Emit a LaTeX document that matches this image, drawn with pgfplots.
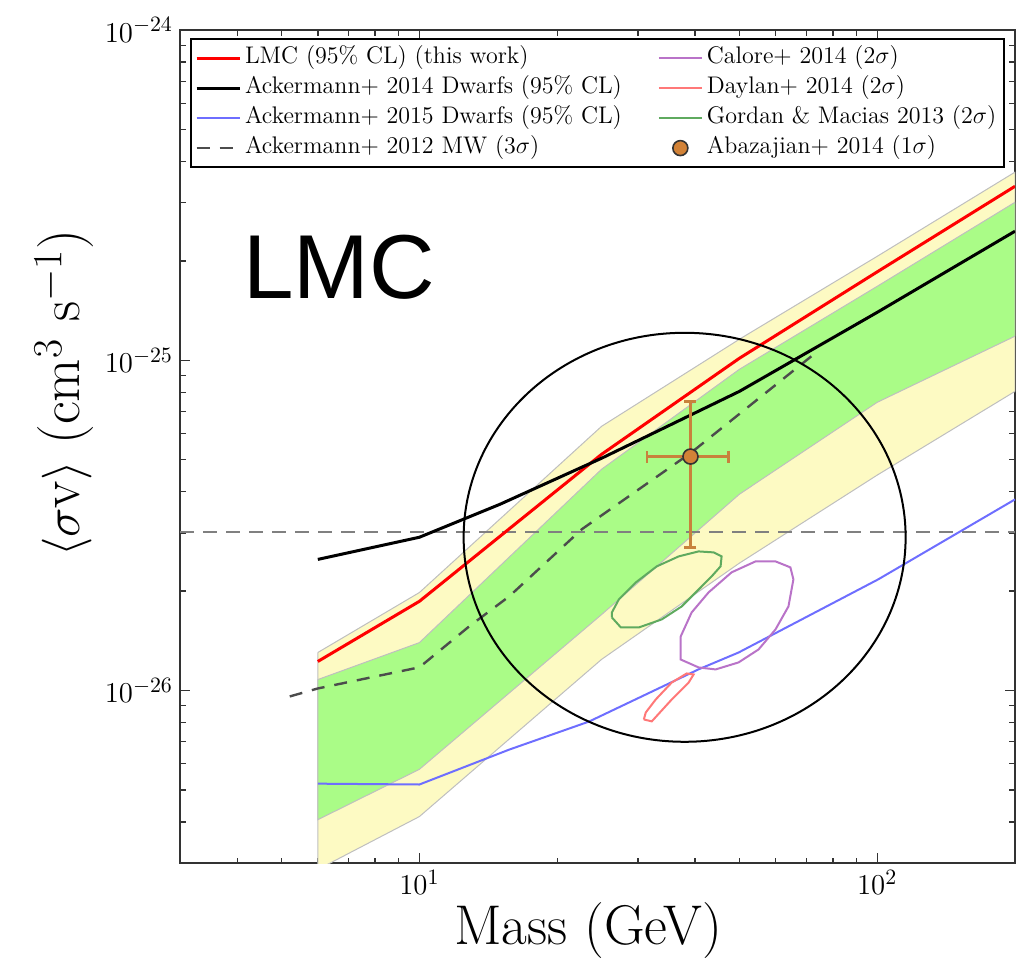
\documentclass[border=0pt]{standalone}
\usepackage{fontspec}
\newfontfamily\arialfont{Liberation Sans}
\usepackage{pgfplots}
\pgfplotsset{compat=1.18}
\usetikzlibrary{calc}

\definecolor{bandyellow}{RGB}{253,250,195}
\definecolor{bandgreen}{RGB}{170,252,135}
\definecolor{ackblue}{RGB}{110,110,255}
\definecolor{calpurple}{RGB}{185,115,200}
\definecolor{daypink}{RGB}{255,120,120}
\definecolor{gorgreen}{RGB}{95,170,95}
\definecolor{abaorange}{RGB}{210,130,55}
\definecolor{abaerr}{RGB}{200,130,60}

\pgfplotsset{
  linelegend/.style={legend image code/.code={\draw[##1] (0pt,0pt) -- (21.5pt,0pt);}},
  marklegend/.style={legend image code/.code={\draw[##1] plot coordinates {(10.75pt,0pt)};}},
}

\begin{document}
\begin{tikzpicture}
\begin{axis}[
  scale only axis, width=417.5pt, height=416.5pt,
  xmode=log, ymode=log,
  xmin=3, xmax=200, ymin=3e-27, ymax=1e-24,
  axis line style={line width=1.1pt, black!80},
  tick style={line width=0.7pt, black!80},
  major tick length=5pt, minor tick length=2.8pt,
  tick label style={font=\fontsize{15}{18}\selectfont},
  xlabel={Mass (GeV)},
  ylabel={$\langle\sigma$v$\rangle$ (cm$^3$ s$^{-1}$)},
  label style={font=\fontsize{28}{32}\selectfont},
  xlabel style={at={(axis description cs:0.4886,-0.0804)}, anchor=center},
  ylabel style={at={(axis description cs:-0.139,0.564)}, anchor=center},
  linelegend,
  legend cell align=left, legend columns=2,
  legend style={at={(axis description cs:0.012,0.9904)}, anchor=north west,
    draw=black, line width=1pt, fill=white, inner sep=2pt,
    font=\fontsize{12}{14}\selectfont,
    nodes={inner sep=2pt, text height=8pt, text depth=3pt},
    /tikz/column 2/.style={column sep=16pt}},
]
% 2 sigma band
\addplot[fill=bandyellow, draw=black!25, line width=0.5pt, forget plot] coordinates {
 (6,1.303e-26) (10,1.98e-26) (25,6.31e-26) (50,1.158e-25) (100,2.065e-25) (200,3.715e-25)
 (200,8.05e-26) (100,4.49e-26) (50,2.43e-26) (25,1.242e-26) (10,4.15e-27) (6,2.87e-27) (6,1.303e-26)};
% 1 sigma band
\addplot[fill=bandgreen, draw=black!25, line width=0.5pt, forget plot] coordinates {
 (6,1.079e-26) (10,1.396e-26) (25,4.677e-26) (50,9.39e-26) (100,1.675e-25) (200,3.01e-25)
 (200,1.183e-25) (100,7.46e-26) (50,3.93e-26) (25,1.698e-26) (10,5.77e-27) (6,4.06e-27) (6,1.079e-26)};
% thermal relic
\addplot[black!50, line width=1pt, dash pattern=on 7pt off 4.5pt, forget plot] coordinates {(3,3.01e-26) (200,3.01e-26)};
% Ackermann 2012 MW
\addplot[black!70, line width=1.2pt, dash pattern=on 6.5pt off 5pt, forget plot] coordinates {
 (5.21,9.59e-27) (6,1.014e-26) (10,1.175e-26) (12.85,1.564e-26) (15.71,1.927e-26) (22.65,3.08e-26) (39.3,5.26e-26) (43.48,5.89e-26) (71.8,1.028e-25)};
% Ackermann 2015
\addplot[ackblue, line width=1pt, forget plot] coordinates {
 (6,5.22e-27) (10,5.19e-27) (15.71,6.62e-27) (23.47,8.05e-27) (40.74,1.159e-26) (49.8,1.303e-26) (100.5,2.17e-26) (200,3.79e-26)};
% Gordan & Macias
\addplot[gorgreen, line width=1pt, forget plot] coordinates {
 (26.33,1.664e-26) (27.55,1.552e-26) (30.16,1.552e-26) (33.83,1.641e-26) (37.41,1.797e-26) (40.74,2.023e-26) (43.48,2.215e-26) (45.49,2.376e-26) (45.72,2.547e-26) (43.92,2.619e-26) (40.74,2.637e-26) (36.85,2.547e-26) (33.00,2.376e-26) (29.71,2.125e-26) (27.27,1.887e-26) (26.33,1.723e-26) (26.33,1.664e-26)};
% Calore
\addplot[calpurple, line width=1pt, forget plot] coordinates {
 (37.22,1.457e-26) (37.22,1.241e-26) (40.74,1.174e-26) (44.37,1.158e-26) (49.80,1.216e-26) (55.06,1.331e-26) (59.95,1.530e-26) (64.00,1.797e-26) (65.61,2.170e-26) (64.63,2.359e-26) (59.95,2.460e-26) (54.24,2.460e-26) (48.08,2.279e-26) (42.83,1.982e-26) (39.33,1.723e-26) (37.22,1.457e-26)};
% Daylan
\addplot[daypink, line width=1pt, forget plot] coordinates {
 (30.92,8.17e-27) (32.18,8.06e-27) (35.58,9.39e-27) (38.75,1.057e-26) (39.73,1.118e-26) (38.37,1.126e-26) (35.58,1.057e-26) (32.83,9.39e-27) (31.23,8.58e-27) (30.92,8.17e-27)};
% LMC
\addplot[red, line width=1.5pt, forget plot] coordinates {
 (6,1.224e-26) (10,1.862e-26) (25,5.19e-26) (50,1.014e-25) (100,1.853e-25) (200,3.365e-25)};
% Ackermann 2014
\addplot[black, line width=1.5pt, forget plot] coordinates {
 (6,2.494e-26) (10,2.911e-26) (15,3.664e-26) (25,5.05e-26) (50,8.05e-26) (100,1.397e-25) (200,2.46e-25)};
% Abazajian
\addplot[only marks, mark=*, mark size=3.75pt, mark options={fill=abaorange, draw=black!80, line width=0.8pt}, forget plot,
  error bars/.cd, x dir=both, x explicit, y dir=both, y explicit,
  error bar style={line width=1.2pt, draw=abaerr},
  error mark=-, error mark options={rotate=90, line width=1.2pt, draw=abaerr, mark size=3pt}]
  coordinates {(39.1,5.11e-26) += (8.2,2.39e-26) -= (7.7,2.40e-26)};

% legend (row-wise order)
\addlegendimage{red, line width=1.5pt}
\addlegendentry{LMC (95\% CL) (this work)}
\addlegendimage{calpurple, line width=1pt}
\addlegendentry{Calore+ 2014 (2$\sigma$)}
\addlegendimage{black, line width=1.5pt}
\addlegendentry{Ackermann+ 2014 Dwarfs (95\% CL)}
\addlegendimage{daypink, line width=1pt}
\addlegendentry{Daylan+ 2014 (2$\sigma$)}
\addlegendimage{ackblue, line width=1pt}
\addlegendentry{Ackermann+ 2015 Dwarfs (95\% CL)}
\addlegendimage{gorgreen, line width=1pt}
\addlegendentry{Gordan \& Macias 2013 (2$\sigma$)}
\addlegendimage{black!70, line width=1.2pt, dash pattern=on 6.5pt off 5pt}
\addlegendentry{Ackermann+ 2012 MW (3$\sigma$)}
\addlegendimage{only marks, mark=*, mark size=3.75pt, mark options={fill=abaorange, draw=black!80, line width=0.8pt}, marklegend}
\addlegendentry{Abazajian+ 2014 (1$\sigma$)}

\node[font=\arialfont\fontsize{45.4}{50}\selectfont, inner sep=0pt, anchor=center] at (axis cs:6.676,1.92e-25) {LMC};
\draw[line width=1pt] (axis cs:37.97,2.91e-26) ellipse [x radius=110.5pt, y radius=102.25pt];

\coordinate (SW) at (rel axis cs:0,0);
\coordinate (NE) at (rel axis cs:1,1);
\end{axis}
\pgfresetboundingbox
\path[use as bounding box] ($(SW)+(-90pt,-49pt)$) rectangle ($(NE)+(1.5pt,15pt)$);
\end{tikzpicture}
\end{document}
